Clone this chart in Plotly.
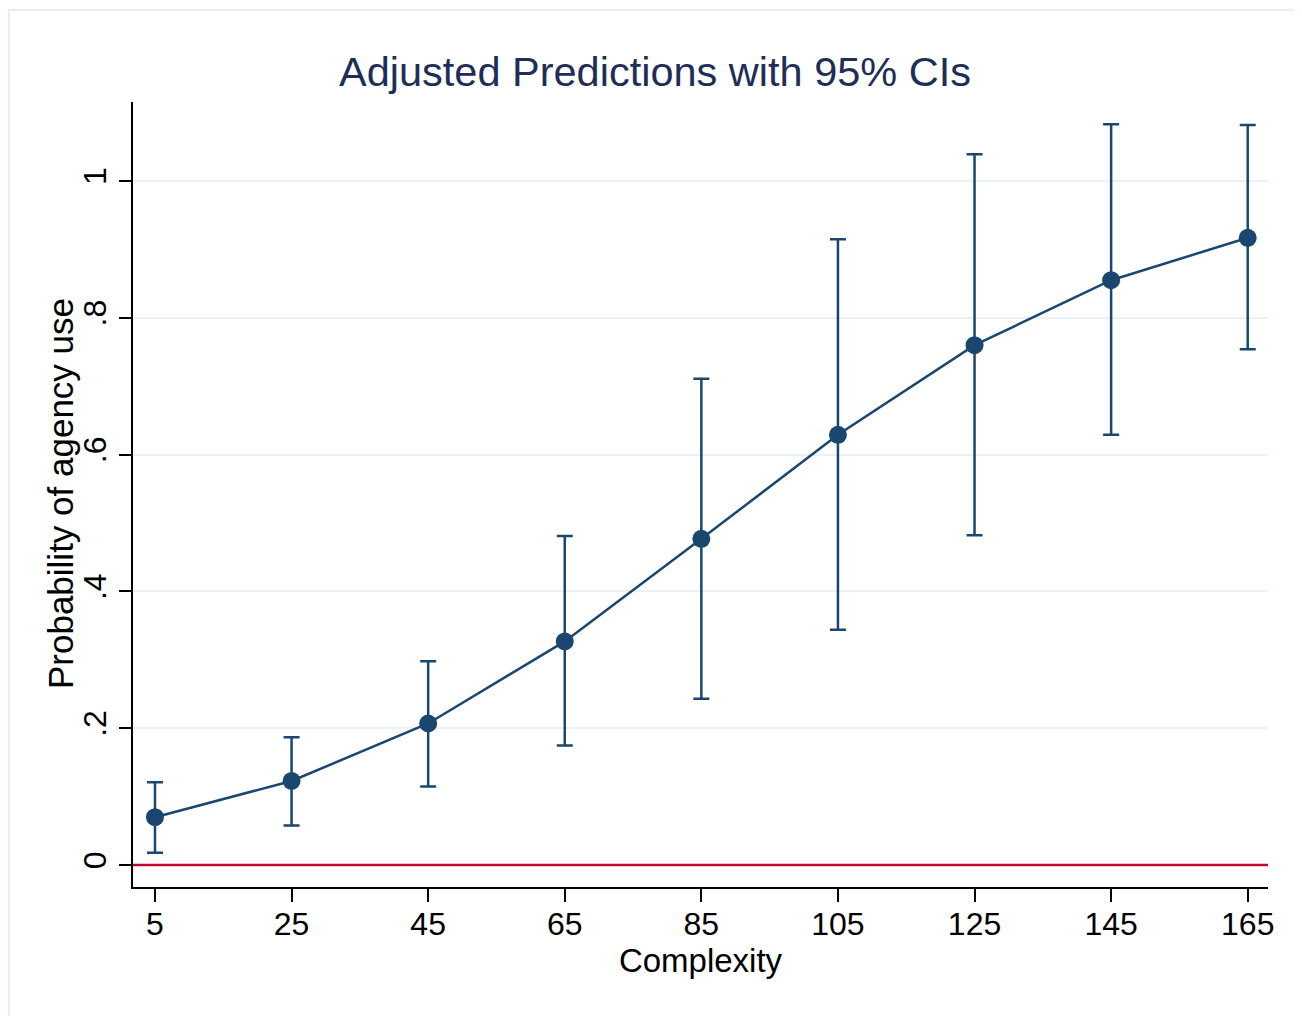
import plotly.graph_objects as go

complexity = [5, 25, 45, 65, 85, 105, 125, 145, 165]
prob = [0.070, 0.123, 0.207, 0.327, 0.477, 0.629, 0.760, 0.855, 0.917]
ci_upper = [0.121, 0.187, 0.298, 0.481, 0.711, 0.915, 1.039, 1.083, 1.082]
ci_lower = [0.018, 0.058, 0.115, 0.175, 0.243, 0.344, 0.482, 0.629, 0.754]

y_tickvals = [0, 0.2, 0.4, 0.6, 0.8, 1]
y_ticktext = ["0", ".2", ".4", ".6", ".8", "1"]
x_tickvals = complexity

navy = "#1a476f"
font_family = "Liberation Sans, Arial, Helvetica, sans-serif"

err_plus = [u - p for u, p in zip(ci_upper, prob)]
err_minus = [p - l for p, l in zip(prob, ci_lower)]

fig = go.Figure()
fig.add_trace(go.Scatter(
    x=complexity, y=prob, mode="lines+markers",
    line=dict(color=navy, width=2.5),
    marker=dict(color=navy, size=18),
    error_y=dict(type="data", symmetric=False, array=err_plus, arrayminus=err_minus,
                 color=navy, thickness=2.5, width=8),
    showlegend=False,
))

fig.add_shape(type="line", xref="paper", yref="y", x0=0, x1=1, y0=0, y1=0,
              line=dict(color="#c10534", width=2.5), layer="above")

# outer frame
fig.add_shape(type="rect", xref="paper", yref="paper",
              x0=-0.10925, x1=1.0282, y0=-0.2, y1=1.1172,
              line=dict(color="#e6eff1", width=2), layer="below")

fig.add_annotation(text="Probability of agency use", textangle=-90,
                   xref="paper", yref="paper", x=-0.0643, y=0.5006,
                   xanchor="center", yanchor="middle", showarrow=False,
                   font=dict(size=35, family=font_family, color="black"))

fig.update_layout(
    width=1294, height=1008,
    margin=dict(l=125, r=34, t=94, b=129),
    paper_bgcolor="white", plot_bgcolor="white",
    font=dict(family=font_family, color="black"),
    title=dict(text="Adjusted Predictions with 95% CIs", x=0.5, xref="container",
               xanchor="center", y=0.9375, yanchor="middle",
               font=dict(size=41.5, color="#1f2e57", family=font_family)),
    xaxis=dict(range=[1.78, 167.97], tickvals=x_tickvals, ticks="outside",
               ticklen=13, tickwidth=2, tickcolor="black", showline=True,
               linecolor="black", linewidth=2, showgrid=False, zeroline=False,
               ticklabelstandoff=-5,
               tickfont=dict(size=32), title=dict(text="Complexity", font=dict(size=33), standoff=4)),
    yaxis=dict(range=[-0.032, 1.1155], tickvals=y_tickvals, ticktext=y_ticktext,
               ticks="outside", ticklen=12, tickwidth=2, tickcolor="black",
               showline=True, linecolor="black", linewidth=2,
               showgrid=True, gridcolor="#eaf2f3", gridwidth=2, zeroline=False,
               tickangle=-90, tickfont=dict(size=32)),
)

fig.write_html("out.html")
